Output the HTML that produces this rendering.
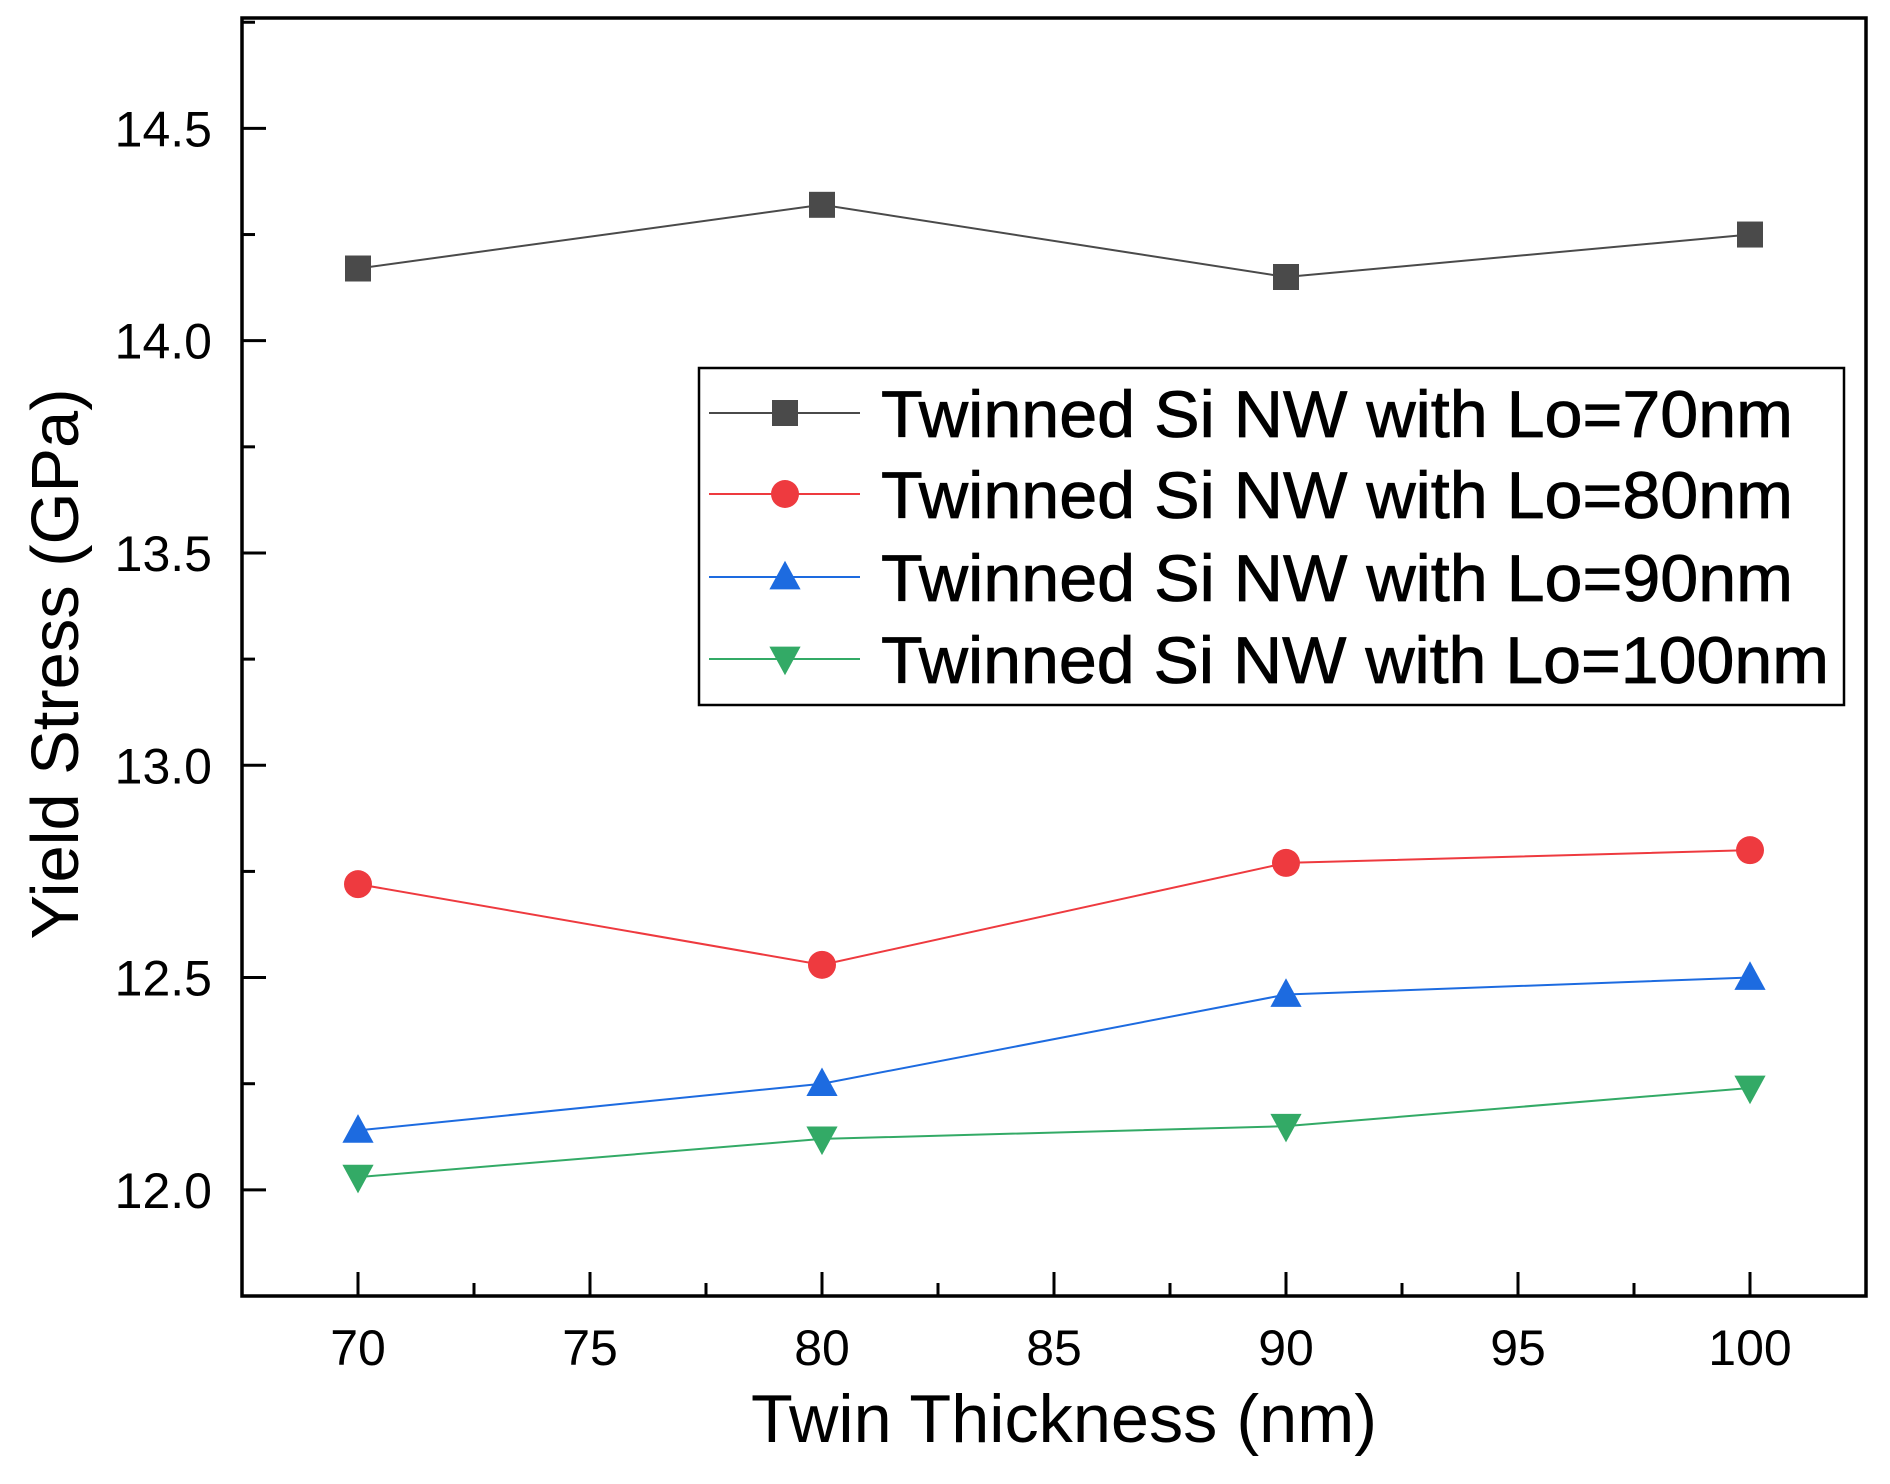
<!DOCTYPE html>
<html><head><meta charset="utf-8"><style>
html,body{margin:0;padding:0;background:#fff;}
svg{display:block;font-family:"Liberation Sans",sans-serif;}
</style></head><body>
<svg id="chart" width="1890" height="1484" viewBox="0 0 1890 1484" xmlns="http://www.w3.org/2000/svg"></svg>
<script>
const categories = [70, 80, 90, 100];
const seriesLo70 = [14.17, 14.32, 14.15, 14.25];
const seriesLo80 = [12.72, 12.53, 12.77, 12.80];
const seriesLo90 = [12.14, 12.25, 12.46, 12.50];
const seriesLo100 = [12.03, 12.12, 12.15, 12.24];
const xTicks = [70, 75, 80, 85, 90, 95, 100];
const yTicks = [12.0, 12.5, 13.0, 13.5, 14.0, 14.5];
const legendLabels = ["Twinned Si NW with Lo=70nm","Twinned Si NW with Lo=80nm","Twinned Si NW with Lo=90nm","Twinned Si NW with Lo=100nm"];

const svg = document.getElementById('chart');
const NS = 'http://www.w3.org/2000/svg';
const L=242, R=1866, T=18, B=1296;
const xMin=67.5, xMax=102.5, yMin=11.75, yMax=14.76;
const xs = v => L + (v - xMin) / (xMax - xMin) * (R - L);
const ys = v => B - (v - yMin) / (yMax - yMin) * (B - T);
function mk(tag, attrs, parent){const e=document.createElementNS(NS,tag);for(const k in attrs)e.setAttribute(k,attrs[k]);(parent||svg).appendChild(e);return e;}

const frame = mk('rect',{x:L,y:T,width:R-L,height:B-T,fill:'none',stroke:'#000','stroke-width':3.5});



xTicks.forEach((t,i)=>{
  const x=xs(t);
  const tk=mk('line',{x1:x,y1:B,x2:x,y2:B-24,stroke:'#000','stroke-width':3});
  
  
  if(i<xTicks.length-1){
    const xm=xs(t+2.5);
    const mt=mk('line',{x1:xm,y1:B,x2:xm,y2:B-13,stroke:'#000','stroke-width':3});
    
    
  }
  const lb=mk('text',{x:x,y:1365,'text-anchor':'middle','font-size':50,fill:'#000'});
  lb.textContent=t;
  
  
});
yTicks.forEach((t,i)=>{
  const y=ys(t);
  const tk=mk('line',{x1:L,y1:y,x2:L+24,y2:y,stroke:'#000','stroke-width':3});
  
  
  const ym=ys(t+0.25);
  const mt=mk('line',{x1:L,y1:ym,x2:L+13,y2:ym,stroke:'#000','stroke-width':3});
  
  
  const lb=mk('text',{x:212,y:y+18,'text-anchor':'end','font-size':50,fill:'#000'});
  lb.textContent=t.toFixed(1);
  
  
});

const xt=mk('text',{x:1064,y:1442,'text-anchor':'middle','font-size':68,fill:'#000',textLength:626,lengthAdjust:'spacingAndGlyphs'});
xt.textContent='Twin Thickness (nm)';


const yt=mk('text',{x:0,y:0,'text-anchor':'middle','font-size':67,fill:'#000',textLength:551,lengthAdjust:'spacingAndGlyphs',transform:'translate(78,664) rotate(-90)'});
yt.textContent='Yield Stress (GPa)';



function marker(type,cx,cy,color,s){
  let e;
  if(type==='square') e=mk('rect',{x:cx-s,y:cy-s,width:2*s,height:2*s,fill:color});
  else if(type==='circle') e=mk('circle',{cx:cx,cy:cy,r:s+1,fill:color});
  else if(type==='up') e=mk('polygon',{points:`${cx},${cy-s*1.25} ${cx-s*1.2},${cy+s*0.95} ${cx+s*1.2},${cy+s*0.95}`,fill:color});
  else e=mk('polygon',{points:`${cx},${cy+s*1.25} ${cx-s*1.2},${cy-s*0.95} ${cx+s*1.2},${cy-s*0.95}`,fill:color});
  return e;
}
const series=[
  {v:seriesLo70,c:'#4a4a4a',m:'square',n:'lo70'},
  {v:seriesLo80,c:'#ee3a3f',m:'circle',n:'lo80'},
  {v:seriesLo90,c:'#1d6be0',m:'up',n:'lo90'},
  {v:seriesLo100,c:'#33aa66',m:'down',n:'lo100'}
];
series.forEach(s=>{
  const pts=s.v.map((v,i)=>xs(categories[i])+','+ys(v)).join(' ');
  const pl=mk('polyline',{points:pts,fill:'none',stroke:s.c,'stroke-width':2});
  
  
  s.v.forEach((v,i)=>{
    const m=marker(s.m,xs(categories[i]),ys(v),s.c,13);
    
    
  });
});

const lg=mk('g',{});


mk('rect',{x:699,y:368,width:1145,height:337,fill:'#fff',stroke:'#000','stroke-width':2.5},lg);
const rows=[413,494,577,659];
series.forEach((s,i)=>{
  const g=mk('g',{},lg);
  
  
  mk('line',{x1:709,y1:rows[i],x2:860,y2:rows[i],stroke:s.c,'stroke-width':2},g);
  g.appendChild(marker(s.m,785,rows[i],s.c,13));
  const t=mk('text',{x:881,y:rows[i]+24,'font-size':66,fill:'#000',stroke:'#000','stroke-width':0.8,textLength:i===3?948:912,lengthAdjust:'spacingAndGlyphs'},g);
  t.textContent=legendLabels[i];
});
</script>
</body></html>
